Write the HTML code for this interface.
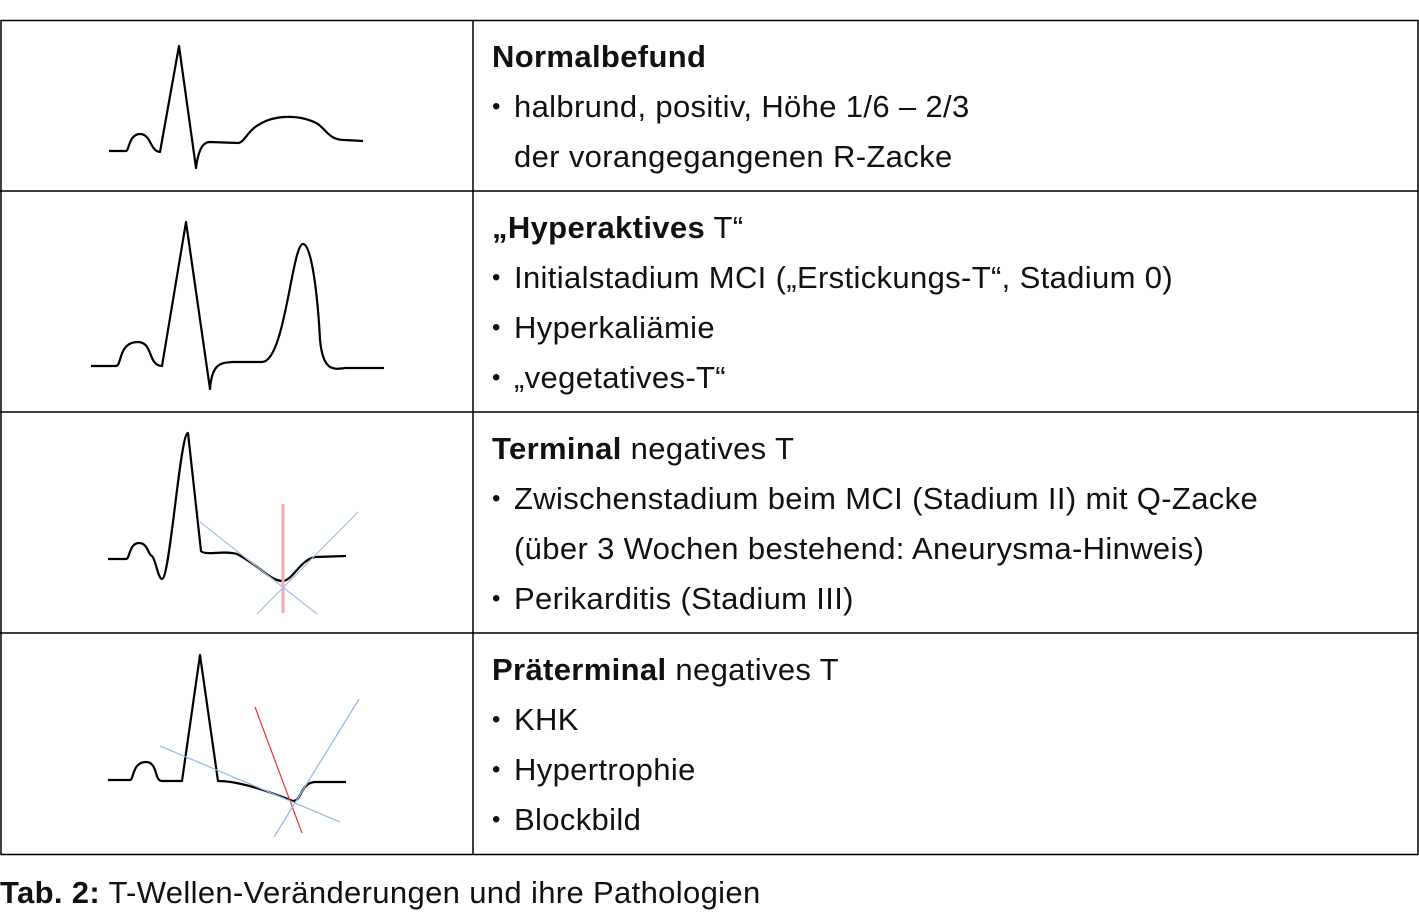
<!DOCTYPE html>
<html><head><meta charset="utf-8">
<style>
body{margin:0;width:1419px;height:923px;background:#fff;position:relative;overflow:hidden;font-family:"Liberation Sans Narrow","Liberation Sans",sans-serif;color:#111;}
.t{position:absolute;left:492px;font-size:31px;line-height:50px;white-space:nowrap;letter-spacing:0.35px}
.t div{height:50px}
.b{padding-left:22px;position:relative}
.b:before{content:"•";position:absolute;left:0;font-size:24px}
.i{padding-left:22px}
b{font-weight:bold}
svg{position:absolute;left:0;top:0}
</style></head><body>
<svg width="1419" height="923">
<g stroke="#000" stroke-width="1.5" fill="none">
<rect x="1" y="20.5" width="1417" height="834"/>
<line x1="473" y1="20" x2="473" y2="855"/>
<line x1="0" y1="191" x2="1419" y2="191"/>
<line x1="0" y1="412" x2="1419" y2="412"/>
<line x1="0" y1="633" x2="1419" y2="633"/>
</g>
<g fill="none" stroke="#000" stroke-width="2.2" stroke-linejoin="round">
<path d="M109 151 L126 151 C129 151 129 134 140 134 C151 134 150 151 160 152 L179 46 L196 168 C199 145 205 142 210 142 L238 143 C244 143 248 130 260 124 C275 115 300 114 318 124 C328 132 330 140 345 140 L363 141"/>
<path d="M91 366 L116 366 C122 366 118 342 138 342 C153 342 148 366 162 366 L186 222 L210 389 C212 362 222 363 232 362 L262 362 C285 362 292 244 303 244 C312 244 318 300 320 340 C323 370 332 370 345 368 L384 368"/>
<path d="M108 559 L126 559 C130 559 129 543 139 543 C148 543 148 555 152 556 C156 560 158 579 162 579 C170 579 180 433 188 433 L201 551 C205 556 225 550 237 554 C260 566 270 581 283 581 C293 580 300 560 315 557 L346 556"/>
<path d="M108 780 L130 780 C134 780 132 762 146 762 C158 762 154 781 162 781 L182 781 L200 655 L218 781 C240 781 270 792 293 801 C302 801 300 783 315 782 L346 782"/>
</g>
<g stroke-width="1.2">
<line x1="283" y1="504" x2="283" y2="613" stroke="#f9a9a9" stroke-width="3"/>
<line x1="200" y1="522" x2="317" y2="614" stroke="#9cc3ea"/>
<line x1="257" y1="614" x2="358" y2="512" stroke="#9cc3ea"/>
<line x1="255" y1="707" x2="302" y2="833" stroke="#f03030"/>
<line x1="160" y1="746" x2="340" y2="822" stroke="#8fb8e6"/>
<line x1="274" y1="837" x2="359" y2="699" stroke="#8fb8e6"/>
</g>
</svg>
<div class="t" style="top:32px">
<div><b>Normalbefund</b></div>
<div class="b">halbrund, positiv, Höhe 1/6 – 2/3</div>
<div class="i">der vorangegangenen R-Zacke</div>
</div>
<div class="t" style="top:203px">
<div><b>„Hyperaktives</b> T“</div>
<div class="b">Initialstadium MCI („Erstickungs-T“, Stadium 0)</div>
<div class="b">Hyperkaliämie</div>
<div class="b">„vegetatives-T“</div>
</div>
<div class="t" style="top:424px">
<div><b>Terminal</b> negatives T</div>
<div class="b">Zwischenstadium beim MCI (Stadium II) mit Q-Zacke</div>
<div class="i">(über 3 Wochen bestehend: Aneurysma-Hinweis)</div>
<div class="b">Perikarditis (Stadium III)</div>
</div>
<div class="t" style="top:645px">
<div><b>Präterminal</b> negatives T</div>
<div class="b">KHK</div>
<div class="b">Hypertrophie</div>
<div class="b">Blockbild</div>
</div>
<div class="t" style="left:0;top:868px"><b>Tab. 2:</b> T-Wellen-Veränderungen und ihre Pathologien</div>
</body></html>
